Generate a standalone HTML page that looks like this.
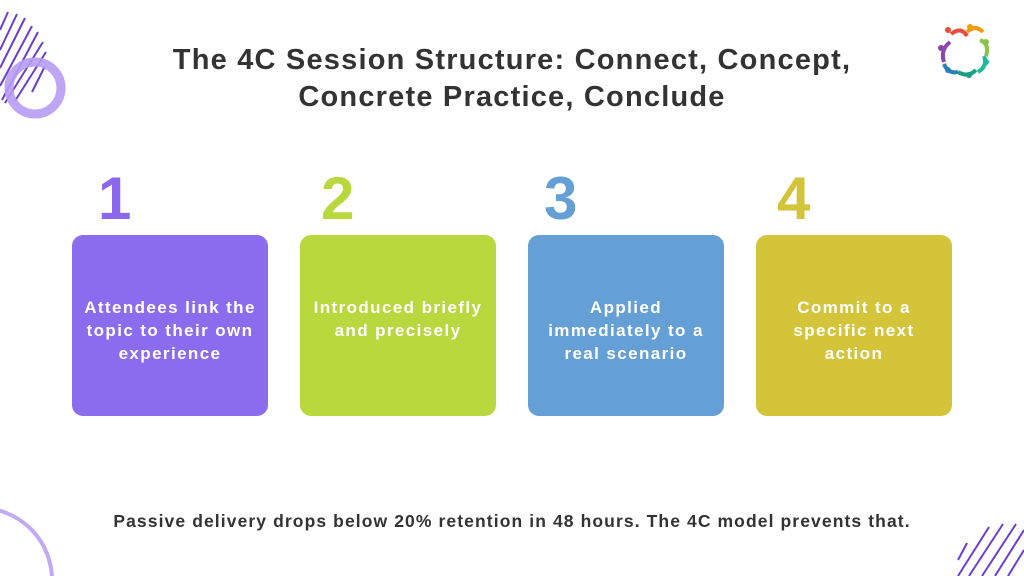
<!DOCTYPE html>
<html><head><meta charset="utf-8"><style>
html,body{margin:0;padding:0;overflow:hidden;width:1024px;height:576px}
body{position:relative;background:#fff;font-family:"Liberation Sans",sans-serif}
.t{position:absolute;left:0;width:1024px;text-align:center;font-weight:bold;color:#333;font-size:29px;letter-spacing:1.2px;line-height:37px;top:42px}
.n{position:absolute;top:166px;font-size:60px;font-weight:bold;line-height:66px}
.b{position:absolute;top:235px;width:196px;height:181px;border-radius:11px;color:#fff;font-weight:bold;font-size:17px;letter-spacing:1.4px;line-height:23px;display:flex;align-items:center;justify-content:center;text-align:center;box-sizing:border-box;padding:10px 6px 0}
.f{position:absolute;left:0;width:1024px;top:511px;text-align:center;font-weight:bold;font-size:17.5px;letter-spacing:1.1px;color:#333;white-space:nowrap}
</style></head><body>
<svg width="1024" height="576" style="position:absolute;left:0;top:0;overflow:hidden">
<g stroke="#6a3fd0" stroke-width="2">
<line x1="0" y1="30" x2="8" y2="12"/><line x1="0" y1="50" x2="17" y2="14"/><line x1="0" y1="68" x2="25" y2="18"/><line x1="0" y1="86" x2="32" y2="26"/><line x1="2" y1="100" x2="38" y2="32"/><line x1="5" y1="103" x2="43" y2="42"/><line x1="15" y1="101" x2="46" y2="52"/><line x1="32" y1="92" x2="45" y2="66"/>
<line x1="958" y1="560" x2="967" y2="543"/><line x1="958" y1="576" x2="989" y2="527"/><line x1="969" y1="576" x2="1003" y2="524"/><line x1="982" y1="576" x2="1016" y2="524"/><line x1="995" y1="576" x2="1024" y2="530"/><line x1="1008" y1="576" x2="1024" y2="550"/>
</g>
<circle cx="35" cy="88" r="26" fill="none" stroke="#b89cf3" stroke-width="9" opacity="0.9"/>
<circle cx="-20" cy="580" r="72" fill="none" stroke="#c3a8f5" stroke-width="4"/>
<g fill="none" stroke-width="4">
<path d="M951 34 q10 -8 16 2" stroke="#e74c3c"/><path d="M967 32 q8 -8 16 0" stroke="#f39c12"/><path d="M980 40 q10 4 6 16" stroke="#8bc34a"/><path d="M984 56 q4 10 -6 16" stroke="#1abc9c"/><path d="M976 70 q-8 8 -18 2" stroke="#16a085"/><path d="M958 72 q-10 2 -14 -8" stroke="#2980b9"/><path d="M944 62 q-4 -12 6 -20" stroke="#8e44ad"/>
</g>
<g><circle cx="948" cy="30" r="3" fill="#e74c3c"/><circle cx="970" cy="27" r="3" fill="#f39c12"/><circle cx="986" cy="42" r="3" fill="#8bc34a"/><circle cx="986" cy="62" r="3" fill="#1abc9c"/><circle cx="969" cy="75" r="3" fill="#16a085"/><circle cx="948" cy="70" r="3" fill="#2980b9"/><circle cx="941" cy="48" r="3" fill="#8e44ad"/></g>
</svg>
<div class="t">The 4C Session Structure: Connect, Concept,<br>Concrete Practice, Conclude</div>
<div class="n" style="left:98px;color:#8b68ee">1</div>
<div class="n" style="left:321px;color:#b8d83e">2</div>
<div class="n" style="left:544px;color:#64a0d6">3</div>
<div class="n" style="left:777px;color:#d4c43a">4</div>
<div class="b" style="left:72px;background:#8b6cee">Attendees link the topic to their own experience</div>
<div class="b" style="left:300px;background:#b8d83e;padding:0 6px 14px">Introduced briefly and precisely</div>
<div class="b" style="left:528px;background:#64a0d6;padding:10px 10px 0">Applied immediately to a real scenario</div>
<div class="b" style="left:756px;background:#d4c43a;padding:10px 30px 0">Commit to a specific next action</div>
<div class="f">Passive delivery drops below 20% retention in 48 hours. The 4C model prevents that.</div>
</body></html>
